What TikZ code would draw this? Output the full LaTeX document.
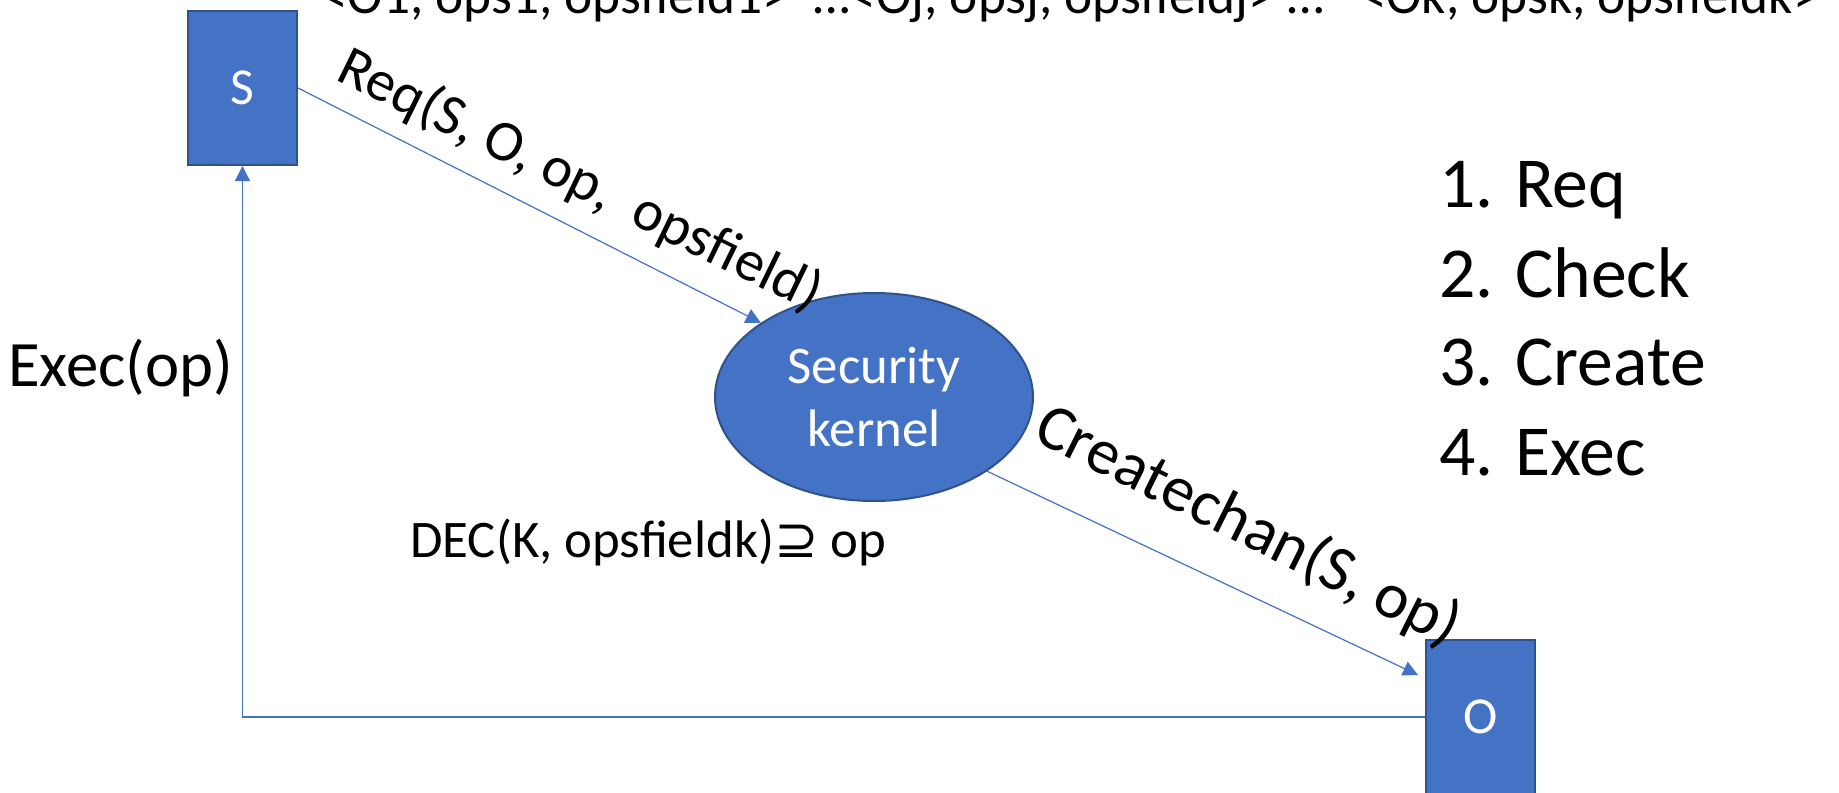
\documentclass[tikz,border=0pt]{standalone}
\usepackage{fontspec}
\setmainfont{Carlito}
\newfontfamily\dejavufam{DejaVu Sans}
\usetikzlibrary{shapes.geometric,arrows.meta}
\definecolor{accent}{HTML}{4472C4}
\definecolor{accentdark}{HTML}{2F528F}
\begin{document}
\begin{tikzpicture}[x=1bp,y=-1bp,
  box/.style={rectangle,fill=accent,draw=accentdark,line width=2bp,minimum width=109bp,minimum height=154bp,inner sep=0pt,text=white,font=\fontsize{52}{62}\selectfont},
  kern/.style={ellipse,fill=accent,draw=accentdark,line width=2bp,minimum width=318bp,minimum height=208bp,inner sep=0pt,text=white,align=center,font=\fontsize{53}{64}\selectfont},
  conn/.style={draw=accent,line width=1.2bp,-{Triangle[length=15bp,width=15bp]}},
  lbl/.style={inner sep=0pt,text=black},
  listitem/.style={lbl,anchor=base west,font=\fontsize{72}{89}\selectfont}
]
\useasboundingbox (0,0) rectangle (1839,793);
\clip (0,0) rectangle (1839,793);
\fill[white] (0,0) rectangle (1839,793);
% shapes
\node[box] (S) at (242.5,88) {S};
\node[box] (O) at (1480.5,717) {O};
\node[kern] (K) at (874,397) {Security\\kernel};
\coordinate (Oin) at (1418,675);
% connectors
\draw[conn] (S.east) -- (K.north west);
\draw[conn] (K.south east) -- (Oin);
\draw[conn] (O.west) -| (S.south);
% labels
\node[lbl,anchor=base west,font=\fontsize{53.5}{64}\selectfont] (top) at (321,14)
  {<O1, ops1, opsfield1>\ \ …<Oj, opsj, opsfieldj> …\ \ \ <Ok, opsk, opsfieldk>};
\node[lbl,rotate=-26,font=\fontsize{58}{70}\selectfont] (req) at (580,181) {Req(S, O, op,\ \ opsfield)};
\node[lbl,rotate=-26.5,font=\fontsize{65}{78}\selectfont] (cc) at (1248,527) {Createchan(S, op)};
\node[lbl,anchor=base west,font=\fontsize{65}{78}\selectfont] (exec) at (8,386) {Exec(op)};
\node[lbl,anchor=base west,font=\fontsize{53}{64}\selectfont] (dec) at (410,557) {DEC(K, opsfieldk){\dejavufam ⊇} op};
\node[listitem] (l1) at (1439,207) {1. Req};
\node[listitem] (l2) at (1439,297) {2. Check};
\node[listitem] (l3) at (1439,385) {3. Create};
\node[listitem] (l4) at (1439,475) {4. Exec};
\end{tikzpicture}
\end{document}
